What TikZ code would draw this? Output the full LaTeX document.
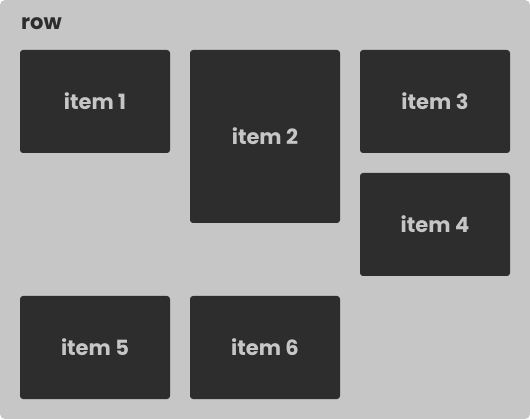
\documentclass[tikz,border=0pt]{standalone}
\usepackage{fontspec}
\setmainfont{Poppins}
\usetikzlibrary{positioning}
\definecolor{rowgray}{RGB}{198,198,198}
\definecolor{itemdark}{RGB}{45,45,45}
\tikzset{
  item/.style={rectangle, fill=itemdark, rounded corners=3pt, minimum width=150pt,
    minimum height=103pt, inner sep=0pt, text=rowgray, font=\fontsize{21}{24}\selectfont\bfseries},
  tallitem/.style={item, minimum height=173pt}
}
\begin{document}
\begin{tikzpicture}[x=1pt, y=-1pt]
    \useasboundingbox (0,0) rectangle (530,419);
    \fill[rowgray, rounded corners=5pt] (0,0) rectangle (530,419);
    \node[anchor=west, text=itemdark, font=\fontsize{21}{24}\selectfont\bfseries, inner sep=0pt] (title) at (21,24) {row};
    \node[item] (item1) at (95,101.5) {item 1};
    \node[tallitem] (item2) at (265,136.5) {item 2};
    \node[item] (item3) at (435,101.5) {item 3};
    \node[item] (item4) at (435,224.5) {item 4};
    \node[item] (item5) at (95,347.5) {item 5};
    \node[item] (item6) at (265,347.5) {item 6};
\end{tikzpicture}
\end{document}
